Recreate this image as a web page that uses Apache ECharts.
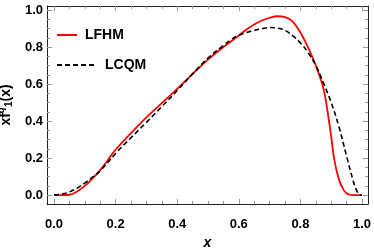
<!DOCTYPE html>
<html><head><meta charset="utf-8">
<script src="https://cdn.jsdelivr.net/npm/echarts@6/dist/echarts.min.js"></script>
<style>html,body{margin:0;padding:0;background:#fff}#c{width:374px;height:250px}</style>
</head><body><div id="c"></div>
<script>
const xTickLabels = [0, 0.2, 0.4, 0.6, 0.8, 1.0];
const yTickLabels = [0, 0.2, 0.4, 0.6, 0.8, 1.0];
const seriesNames = ['LFHM', 'LCQM'];
const lfhmX = [0,0.025,0.05,0.075,0.1,0.125,0.15,0.175,0.2,0.25,0.3,0.35,0.4,0.45,0.5,0.55,0.6,0.625,0.65,0.675,0.7,0.725,0.75,0.775,0.8,0.825,0.85,0.875,0.89,0.9,0.91,0.925,0.94,0.95,0.96,0.97,0.985,1.0];
const lfhmY = [0,0,0.002,0.02,0.05,0.09,0.135,0.19,0.245,0.335,0.42,0.497,0.574,0.655,0.732,0.80,0.862,0.895,0.922,0.943,0.958,0.966,0.962,0.937,0.878,0.797,0.70,0.575,0.43,0.315,0.19,0.085,0.028,0.01,0.002,0,0,0];
const lcqmX = [0,0.025,0.05,0.075,0.1,0.125,0.15,0.2,0.25,0.3,0.35,0.4,0.45,0.5,0.55,0.575,0.6,0.625,0.65,0.675,0.7,0.725,0.75,0.775,0.8,0.825,0.85,0.875,0.9,0.925,0.95,0.97,0.98,0.99,1.0];
const lcqmY = [0,0.005,0.017,0.038,0.065,0.097,0.131,0.225,0.31,0.393,0.478,0.565,0.655,0.74,0.808,0.84,0.863,0.878,0.89,0.899,0.905,0.902,0.89,0.861,0.822,0.77,0.70,0.605,0.50,0.37,0.21,0.085,0.034,0.006,0];

const zip = (xs, ys) => xs.map((x, i) => [x, ys[i]]);
const minor = [];
for (let i = 0; i <= 20; i++) minor.push(+(i * 0.05).toFixed(2));
const XMIN = -0.0227, XMAX = 1.0194, YMIN = -0.048, YMAX = 1.0215;
const font = '"Liberation Sans", Arial, sans-serif';

function xAx(pos, labels, len, showLine) {
  return {
    type: 'value', position: pos, min: XMIN, max: XMAX,
    axisLine: {show: showLine, onZero: false, lineStyle: {color: '#222', width: 1}},
    splitLine: {show: false},
    axisTick: {show: true, inside: true, length: len, customValues: len > 4 ? xTickLabels : minor, lineStyle: {color: '#999'}},
    axisLabel: labels ? {show: true, customValues: xTickLabels, formatter: v => v.toFixed(1), fontFamily: font, fontWeight: 'bold', fontSize: 13, color: '#000', margin: 14} : {show: false}
  };
}
function yAx(pos, labels, len, showLine) {
  return {
    type: 'value', position: pos, min: YMIN, max: YMAX,
    axisLine: {show: showLine, onZero: false, lineStyle: {color: '#222', width: 1}},
    splitLine: {show: false},
    axisTick: {show: true, inside: true, length: len, customValues: len > 4 ? yTickLabels : minor, lineStyle: {color: '#999'}},
    axisLabel: labels ? {show: true, customValues: yTickLabels, formatter: v => v.toFixed(1), fontFamily: font, fontWeight: 'bold', fontSize: 13, color: '#000', margin: 4} : {show: false}
  };
}

const xs = [xAx('bottom', true, 5, true), xAx('bottom', false, 3, false), xAx('top', false, 5, true), xAx('top', false, 3, false)];
xs[0].name = 'x';
xs[0].nameLocation = 'middle';
xs[0].nameGap = 28;
xs[0].nameTextStyle = {fontFamily: font, fontWeight: 'bold', fontStyle: 'italic', fontSize: 14, color: '#000'};
const ys = [yAx('left', true, 5, true), yAx('left', false, 3, false), yAx('right', false, 5, true), yAx('right', false, 3, false)];
ys[0].name = 'xf{sup|q}{sub|1}(x)';
ys[0].nameLocation = 'middle';
ys[0].nameRotate = 90;
ys[0].nameGap = 22;
ys[0].nameTextStyle = {fontFamily: font, fontWeight: 'bold', fontSize: 14, color: '#000',
  rich: {sup: {fontFamily: font, fontWeight: 'bold', fontStyle: 'italic', fontSize: 10, padding: [0,0,9,0], color: '#000'},
         sub: {fontFamily: font, fontWeight: 'bold', fontSize: 10, padding: [6,0,0,0], color: '#000'}}};

const solidIcon = 'path://M0,0h20v2h-20z';
const dashIcon = 'path://M0,0h5v2h-5z M8,0h5v2h-5z M16,0h5v2h-5z M24,0h5v2h-5z M32,0h5v2h-5z';

const chart = echarts.init(document.getElementById('c'), null, {renderer: 'canvas'});
chart.setOption({
  animation: false,
  grid: {left: 47, right: 6, top: 6, bottom: 46, containLabel: false, outerBoundsMode: 'none'},
  xAxis: xs,
  yAxis: ys,
  legend: [
    {data: [{name: seriesNames[0], icon: solidIcon}], left: 57, top: 28, padding: 0, itemWidth: 20, itemHeight: 2, itemGap: 0,
     textStyle: {fontFamily: font, fontWeight: 'bold', fontSize: 14, color: '#000', padding: [0,0,0,3]}},
    {data: [{name: seriesNames[1], icon: dashIcon}], left: 57, top: 58, padding: 0, itemWidth: 37, itemHeight: 2, itemGap: 0,
     textStyle: {fontFamily: font, fontWeight: 'bold', fontSize: 14, color: '#000', padding: [0,0,0,6]}}
  ],
  series: [
    {name: seriesNames[0], type: 'line', data: zip(lfhmX, lfhmY), smooth: 0.4, showSymbol: false, symbol: 'none',
     lineStyle: {color: '#ff0000', width: 1.8}, itemStyle: {color: '#ff0000'}, z: 3},
    {name: seriesNames[1], type: 'line', data: zip(lcqmX, lcqmY), smooth: 0.4, showSymbol: false, symbol: 'none',
     lineStyle: {color: '#000', width: 1.6, type: [5, 3]}, itemStyle: {color: '#000'}, z: 4}
  ]
});
</script></body></html>
